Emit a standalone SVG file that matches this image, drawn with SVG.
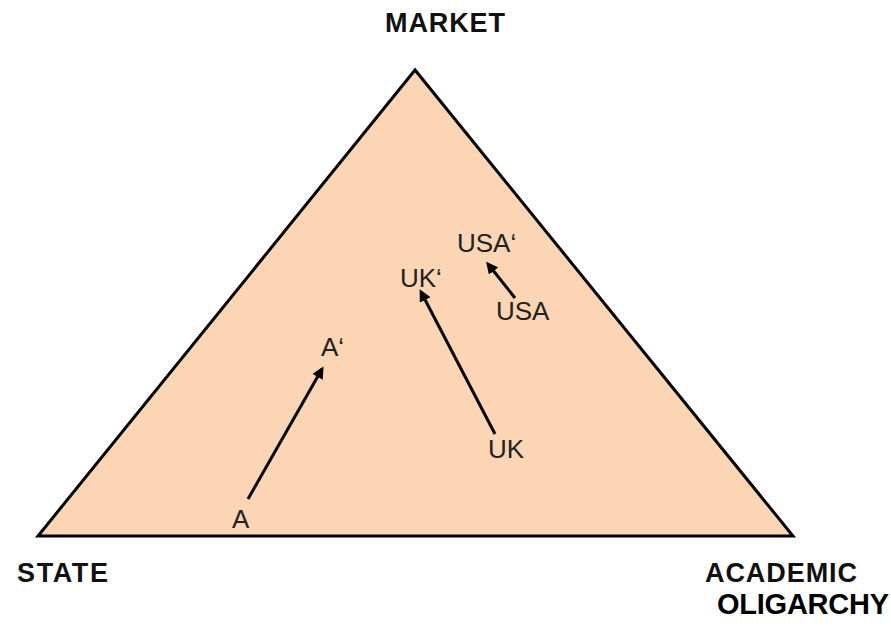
<svg xmlns="http://www.w3.org/2000/svg" width="891" height="626" viewBox="0 0 891 626">
<style>
.lbl{font-family:"Liberation Sans",Arial,sans-serif;font-weight:bold;fill:#111;font-size:27px}
.in{font-family:"Liberation Sans",Arial,sans-serif;font-size:26px;fill:#222}
.arr{stroke:#000;stroke-width:3;fill:none;marker-end:url(#ah)}
</style>
<defs>
<marker id="ah" markerWidth="4" markerHeight="4" refX="3" refY="2" orient="auto" markerUnits="strokeWidth">
<path d="M0,0 L4,2 L0,4 Z" fill="#000"/>
</marker>
</defs>
<rect width="891" height="626" fill="#fff"/>
<g id="triangle">
<polygon points="415,70 38,536 793,536" fill="#fcd5b4" stroke="#000" stroke-width="3" stroke-linejoin="miter"/>
</g>
<g id="market"><text class="lbl" x="385" y="32" textLength="120">MARKET</text></g>
<g id="state"><text class="lbl" x="17" y="582" textLength="91">STATE</text></g>
<g id="academic"><text class="lbl" x="705" y="582" textLength="152">ACADEMIC</text></g>
<g id="oligarchy"><text class="lbl" x="717" y="614" style="font-size:29px;fill:#000" textLength="172">OLIGARCHY</text></g>
<g id="nodeA"><text class="in" x="232" y="528">A</text></g>
<g id="nodeA2"><text class="in" x="321" y="356">A‘</text></g>
<g id="nodeUK"><text class="in" x="488" y="458">UK</text></g>
<g id="nodeUK2"><text class="in" x="400" y="287">UK‘</text></g>
<g id="nodeUSA"><text class="in" x="496" y="320">USA</text></g>
<g id="nodeUSA2"><text class="in" x="457" y="252">USA‘</text></g>
<g id="connectors">
<line class="arr" x1="248" y1="499" x2="322" y2="369"/>
<line class="arr" x1="495" y1="434" x2="421" y2="292"/>
<line class="arr" x1="515" y1="298" x2="488" y2="264"/>
</g>
</svg>
